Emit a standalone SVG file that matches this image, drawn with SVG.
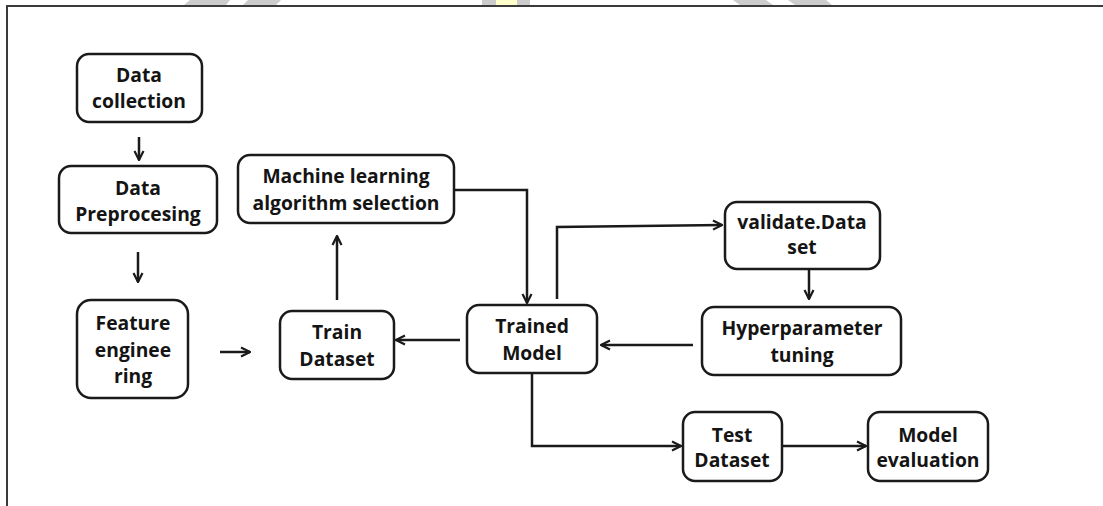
<svg xmlns="http://www.w3.org/2000/svg" width="1103" height="506" viewBox="0 0 1103 506">
  <style>
    .box { fill: #ffffff; stroke: #1a1a1a; stroke-width: 2.5; }
    .lbl { font-family: "Open Sans", "Liberation Sans", sans-serif; font-weight: bold; font-size: 19.3px; fill: #141414; text-anchor: middle; }
    .conn { fill: none; stroke: #1a1a1a; stroke-width: 2.5; }
    .frame { fill: none; stroke: #3a3a3a; stroke-width: 2; }
  </style>
  <defs>
    <marker id="arrow" viewBox="0 0 12 12" refX="11" refY="6" markerWidth="12" markerHeight="12" markerUnits="userSpaceOnUse" orient="auto">
      <path d="M2,1.5 L11,6 L2,10.5" fill="none" stroke="#1a1a1a" stroke-width="2.2"/>
    </marker>
  </defs>

  <rect width="1103" height="506" fill="#ffffff"/>

  <!-- decorative band pieces along the top edge -->
  <g id="top-band">
    <polygon points="190,0 230,0 226,5 184,5" fill="#cccccc"/>
    <polygon points="248,0 281,0 276,5 243,5" fill="#cccccc"/>
    <rect x="482" y="0" width="14" height="5" fill="#cccccc"/>
    <rect x="496" y="0" width="21" height="5" fill="#ffffcc"/>
    <rect x="517" y="0" width="13" height="5" fill="#cccccc"/>
    <polygon points="733,0 766,0 773,5 740,5" fill="#cccccc"/>
    <polygon points="788,0 826,0 832,5 795,5" fill="#cccccc"/>
  </g>

  <!-- page frame -->
  <path class="frame" d="M7,506 L7,6 L1103,6"/>

  <g id="connectors">
    <path class="conn" d="M139,137 L139,160" marker-end="url(#arrow)"/>
    <path class="conn" d="M138,252 L138,282" marker-end="url(#arrow)"/>
    <path class="conn" d="M220,352 L250,352" marker-end="url(#arrow)"/>
    <path class="conn" d="M337,300 L337,236" marker-end="url(#arrow)"/>
    <path class="conn" d="M454,190 L527,190 L527,303" marker-end="url(#arrow)"/>
    <path class="conn" d="M557,299 L557,227 L722,225" marker-end="url(#arrow)"/>
    <path class="conn" d="M809,270 L809,299" marker-end="url(#arrow)"/>
    <path class="conn" d="M693,345 L601,345" marker-end="url(#arrow)"/>
    <path class="conn" d="M460,340 L396,340" marker-end="url(#arrow)"/>
    <path class="conn" d="M532,373 L532,446 L681,446" marker-end="url(#arrow)"/>
    <path class="conn" d="M782,446 L866,446" marker-end="url(#arrow)"/>
  </g>

  <g id="data-collection">
    <rect class="box" x="77" y="54" width="125" height="68" rx="12"/>
    <text class="lbl" x="139" y="82">Data</text>
    <text class="lbl" x="139" y="108">collection</text>
  </g>

  <g id="data-preprocessing">
    <rect class="box" x="59" y="166" width="158" height="67" rx="12"/>
    <text class="lbl" x="138" y="195">Data</text>
    <text class="lbl" x="138" y="221">Preprocesing</text>
  </g>

  <g id="feature-engineering">
    <rect class="box" x="77" y="300" width="111" height="98" rx="14"/>
    <text class="lbl" x="133" y="330">Feature</text>
    <text class="lbl" x="133" y="357">enginee</text>
    <text class="lbl" x="133" y="383">ring</text>
  </g>

  <g id="train-dataset">
    <rect class="box" x="280" y="311" width="114" height="68" rx="12"/>
    <text class="lbl" x="337" y="339">Train</text>
    <text class="lbl" x="337" y="366">Dataset</text>
  </g>

  <g id="ml-algorithm-selection">
    <rect class="box" x="238" y="155" width="216" height="68" rx="12"/>
    <text class="lbl" x="346" y="183">Machine learning</text>
    <text class="lbl" x="346" y="210">algorithm selection</text>
  </g>

  <g id="trained-model">
    <rect class="box" x="467" y="305" width="130" height="68" rx="12"/>
    <text class="lbl" x="532" y="333">Trained</text>
    <text class="lbl" x="532" y="360">Model</text>
  </g>

  <g id="validate-dataset">
    <rect class="box" x="725" y="202" width="155" height="67" rx="12"/>
    <text class="lbl" x="802" y="229">validate.Data</text>
    <text class="lbl" x="802" y="254">set</text>
  </g>

  <g id="hyperparameter-tuning">
    <rect class="box" x="702" y="307" width="199" height="68" rx="12"/>
    <text class="lbl" x="802" y="335">Hyperparameter</text>
    <text class="lbl" x="802" y="362">tuning</text>
  </g>

  <g id="test-dataset">
    <rect class="box" x="683" y="412" width="99" height="69" rx="12"/>
    <text class="lbl" x="732" y="442">Test</text>
    <text class="lbl" x="732" y="467">Dataset</text>
  </g>

  <g id="model-evaluation">
    <rect class="box" x="868" y="412" width="120" height="69" rx="12"/>
    <text class="lbl" x="928" y="442">Model</text>
    <text class="lbl" x="928" y="467">evaluation</text>
  </g>
</svg>
